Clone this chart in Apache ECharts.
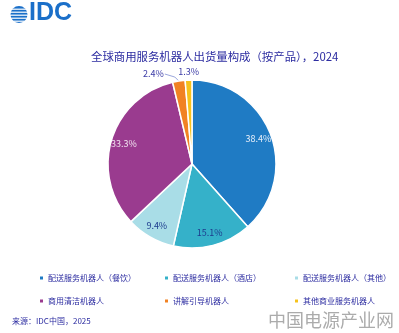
<!DOCTYPE html>
<html>
<head>
<meta charset="utf-8">
<script src="https://cdn.jsdelivr.net/npm/echarts@6/dist/echarts.min.js"></script>
<style>
html,body{margin:0;padding:0;background:#fff;}
#chart{width:399px;height:333px;}
</style>
</head>
<body>
<div id="chart"></div>
<script>
// Product categories and their 2024 shipment shares (%)
const categories = [
  '配送服务机器人（餐饮）',
  '配送服务机器人（酒店）',
  '配送服务机器人（其他）',
  '商用清洁机器人',
  '讲解引导机器人',
  '其他商业服务机器人'
];
const shares = [38.4, 15.1, 9.4, 33.3, 2.4, 1.3];
const colors = ['#1f7bc4', '#35b1c9', '#a9dde7', '#9a3b8f', '#f18223', '#f6c21c'];
const labelColors = ['#e6eef9', '#1d3b8e', '#1d3b8e', '#f1e3ef', '#3b3ba6', '#3b3ba6'];
const outsideLabel = [false, false, false, false, true, true];

const chart = echarts.init(document.getElementById('chart'));
const fontFamily = '"Noto Sans CJK SC", "Noto Sans", sans-serif';
const textBlue = '#2b2ba0';

const CENTER = [192, 164];
const RADIUS = 84;

// one legend block per category, laid out in a 3 x 2 grid
const legendCols = [38, 163, 293];
const legendRows = [274, 297];
const legends = categories.map((name, i) => ({
  data: [name],
  left: legendCols[i % 3],
  top: legendRows[Math.floor(i / 3)],
  padding: 0,
  itemWidth: 5,
  itemHeight: 5,
  itemGap: 0,
  icon: 'rect',
  textStyle: { color: textBlue, fontSize: 8, fontFamily: fontFamily, padding: [0, 0, 0, -1] }
}));

const pctFormatter = p => p.value.toFixed(1) + '%';

// logo mark: blue disc cut by white horizontal stripes
const logoStripes = [8.6, 11.6, 14.6, 17.6, 20.6].map(y => ({
  type: 'rect', shape: { x: 10, y: y, width: 18, height: 1.2 }, style: { fill: '#fff' }
}));

chart.setOption({
  backgroundColor: '#fff',
  animation: false,
  title: {
    text: '全球商用服务机器人出货量构成（按产品），2024',
    left: 86,
    top: 46,
    textStyle: { color: textBlue, fontSize: 11.4, fontWeight: 'normal', fontFamily: fontFamily }
  },
  legend: legends,
  graphic: [
    { type: 'circle', shape: { cx: 19, cy: 14.5, r: 8.5 }, style: { fill: '#1a6fc9' } }
  ].concat(logoStripes, [
    { type: 'text', left: 29, top: 1, style: { text: 'IDC', fill: '#1a6fc9', font: 'bold 25px "Liberation Sans", Arial, sans-serif' } },
    { type: 'text', left: 12, top: 317, style: { text: '来源：IDC中国，2025', fill: textBlue, font: '8px ' + fontFamily } },
    { type: 'text', left: 268, top: 311, style: { text: '中国电源产业网', fill: '#ababab', font: '18px "Noto Sans CJK SC", serif' } }
  ]),
  series: [
    {
      // slices, with the two thin slices labelled outside
      type: 'pie',
      center: CENTER,
      radius: [0, RADIUS],
      startAngle: 90,
      clockwise: true,
      itemStyle: { borderColor: '#fff', borderWidth: 1.5 },
      data: categories.map((name, i) => ({
        name: name,
        value: shares[i],
        itemStyle: { color: colors[i] },
        label: { show: outsideLabel[i], color: labelColors[i] },
        labelLine: { show: outsideLabel[i] }
      })),
      label: { position: 'outside', formatter: pctFormatter, fontSize: 9, fontFamily: fontFamily },
      labelLine: { length: 6, length2: 8, lineStyle: { color: '#9aa6dc', width: 1 } },
      labelLayout: function (params) {
        const pts = params.labelLinePoints;
        if (!pts) return {};
        const p0 = pts[0];
        if (params.dataIndex === 5) {
          return {
            x: p0[0], y: p0[1] - 4, align: 'center', verticalAlign: 'bottom',
            labelLinePoints: [p0, p0, p0]
          };
        }
        return {
          x: p0[0] - 15, y: p0[1] - 7, align: 'right', verticalAlign: 'middle',
          labelLinePoints: [p0, [p0[0] - 4, p0[1] - 4], [p0[0] - 14, p0[1] - 7]]
        };
      }
    },
    {
      // transparent companion ring carrying the inner percentage labels
      type: 'pie',
      center: CENTER,
      radius: [0, RADIUS * 1.62],
      startAngle: 90,
      clockwise: true,
      silent: true,
      z: 3,
      itemStyle: { color: 'transparent', borderWidth: 0 },
      emphasis: { disabled: true },
      data: categories.map((name, i) => ({
        name: name + ' ',
        value: shares[i],
        label: { show: !outsideLabel[i], color: labelColors[i] }
      })),
      label: { position: 'inside', formatter: pctFormatter, fontSize: 9, fontFamily: fontFamily },
      labelLine: { show: false }
    }
  ]
});
</script>
</body>
</html>
